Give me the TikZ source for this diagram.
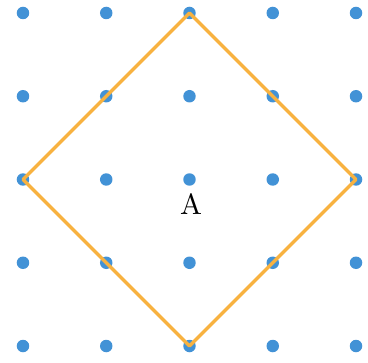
\documentclass[tikz,border=0pt]{standalone}
\usepackage{tikz}
\usetikzlibrary{arrows.meta,positioning}

\definecolor{dotblue}{RGB}{66,146,214}
\definecolor{lineorange}{RGB}{248,178,64}

\tikzset{
  griddot/.style={circle,fill=dotblue,inner sep=0pt,minimum size=0.15cm},
  diamondline/.style={draw=lineorange,line width=1.1pt,line join=round}
}

\begin{document}
\begin{tikzpicture}
\useasboundingbox (-0.276,-0.192) rectangle (4.144,4.156);
\foreach \i in {0,...,4}{
  \foreach \j in {0,...,4}{
    \node[griddot] (d-\i-\j) at (\i,\j) {};
  }
}
\draw[diamondline] (d-2-4.center)--(d-4-2.center)--(d-2-0.center)--(d-0-2.center)--cycle;
\node (lblA) at (2.02,1.70) {A};
\end{tikzpicture}
\end{document}
